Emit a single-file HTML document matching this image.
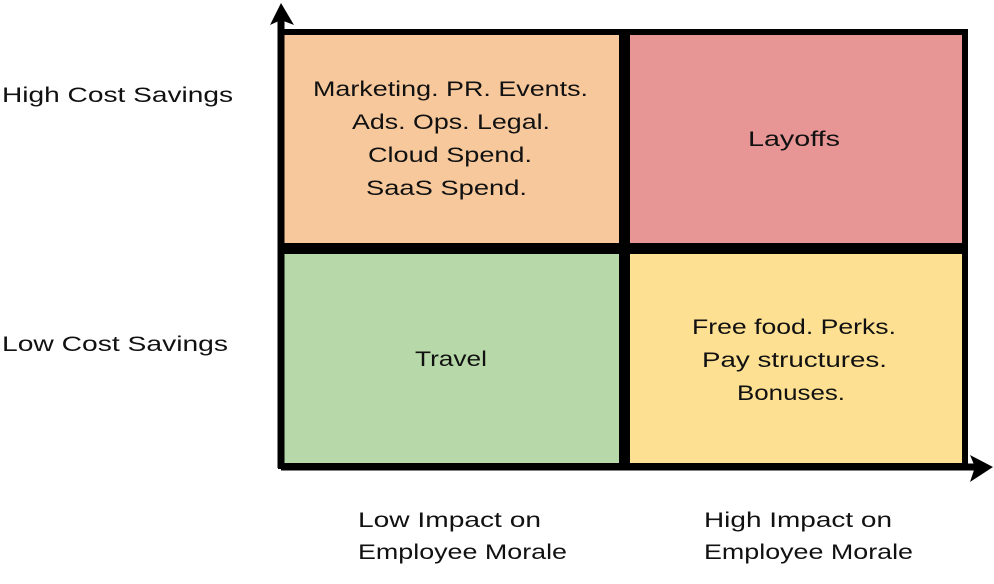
<!DOCTYPE html>
<html><head><style>
html,body{margin:0;padding:0;background:#fff;}
svg{display:block}
text{font-family:"Liberation Sans",sans-serif;font-size:21px;fill:#111;}
</style></head><body>
<svg width="994" height="584" viewBox="0 0 994 584" xmlns="http://www.w3.org/2000/svg">
<rect x="281" y="32" width="341" height="214" fill="#f7c89b" stroke="#000" stroke-width="6"/>
<rect x="627" y="32" width="338" height="214" fill="#e89595" stroke="#000" stroke-width="6"/>
<rect x="281" y="251" width="341" height="215" fill="#b7d8a8" stroke="#000" stroke-width="6"/>
<rect x="627" y="251" width="338" height="215" fill="#fde092" stroke="#000" stroke-width="6"/>
<line x1="281" y1="12" x2="281" y2="468" stroke="#000" stroke-width="7"/>
<polygon points="270,25 281,3 294,25 281,20" fill="#000"/>
<line x1="281" y1="467" x2="980" y2="467" stroke="#000" stroke-width="7"/>
<polygon points="970,455 993,467 970,482 975,467" fill="#000"/>
<text x="313" y="96" textLength="275" lengthAdjust="spacingAndGlyphs">Marketing. PR. Events.</text>
<text x="352" y="129" textLength="198" lengthAdjust="spacingAndGlyphs">Ads. Ops. Legal.</text>
<text x="368" y="162" textLength="164" lengthAdjust="spacingAndGlyphs">Cloud Spend.</text>
<text x="366" y="195" textLength="161" lengthAdjust="spacingAndGlyphs">SaaS Spend.</text>
<text x="748" y="146" textLength="92" lengthAdjust="spacingAndGlyphs">Layoffs</text>
<text x="415" y="366" textLength="72" lengthAdjust="spacingAndGlyphs">Travel</text>
<text x="692" y="334" textLength="204" lengthAdjust="spacingAndGlyphs">Free food. Perks.</text>
<text x="702" y="367" textLength="185" lengthAdjust="spacingAndGlyphs">Pay structures.</text>
<text x="737" y="400" textLength="108" lengthAdjust="spacingAndGlyphs">Bonuses.</text>
<text x="358" y="527" textLength="183" lengthAdjust="spacingAndGlyphs">Low Impact on</text>
<text x="358" y="559" textLength="209" lengthAdjust="spacingAndGlyphs">Employee Morale</text>
<text x="704" y="527" textLength="188" lengthAdjust="spacingAndGlyphs">High Impact on</text>
<text x="704" y="559" textLength="209" lengthAdjust="spacingAndGlyphs">Employee Morale</text>
<text x="2" y="102" textLength="231" lengthAdjust="spacingAndGlyphs">High Cost Savings</text>
<text x="2" y="351" textLength="226" lengthAdjust="spacingAndGlyphs">Low Cost Savings</text>
</svg>
</body></html>
